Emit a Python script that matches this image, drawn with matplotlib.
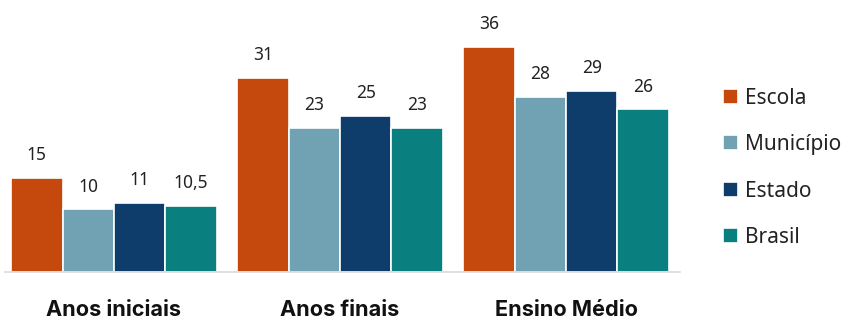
import numpy as np
import matplotlib.pyplot as plt

categories = ["Anos iniciais", "Anos finais", "Ensino Médio"]
series = ["Escola", "Município", "Estado", "Brasil"]
escola = [15, 31, 36]
municipio = [10, 23, 28]
estado = [11, 25, 29]
brasil = [10.5, 23, 26]
colors = ["#C5480C", "#71A2B3", "#0E3C6B", "#0A7F80"]

plt.rcParams["font.family"] = ["Noto Sans", "DejaVu Sans"]

fig = plt.figure(figsize=(8.45, 3.2), dpi=100)
ax = fig.add_axes([5 / 845, 48 / 320, 675 / 845, 272 / 320])

x = np.arange(len(categories))
width = 0.2275
values = [escola, municipio, estado, brasil]
for i, (name, vals) in enumerate(zip(series, values)):
    bars = ax.bar(x + (i - 1.5) * width, vals, width, color=colors[i],
                  edgecolor="white", linewidth=1.2, label=name)
    ax.bar_label(bars, labels=[f"{v:g}".replace(".", ",") for v in vals],
                 padding=10, fontsize=12.5, color="#222222")

ax.set_xlim(-0.482, 2.504)
ax.set_ylim(0, 43.5)
ax.set_xticks(x)
ax.set_xticklabels(categories, fontsize=15.6, fontweight="bold", color="#111111",
                   family=["Inter", "DejaVu Sans"])
ax.tick_params(axis="x", length=0, pad=20)
ax.set_yticks([])
for s in ["top", "right", "left"]:
    ax.spines[s].set_visible(False)
ax.spines["bottom"].set_color("#d9d9d9")
ax.spines["bottom"].set_linewidth(1.2)

fig.legend(loc="upper left", bbox_to_anchor=(704 / 845, 1 - 69 / 320),
           frameon=False, fontsize=15, handlelength=0.72, handleheight=0.72,
           handletextpad=0.33, labelspacing=1.22, labelcolor="#222222")

fig.savefig("out.png", dpi=100)
